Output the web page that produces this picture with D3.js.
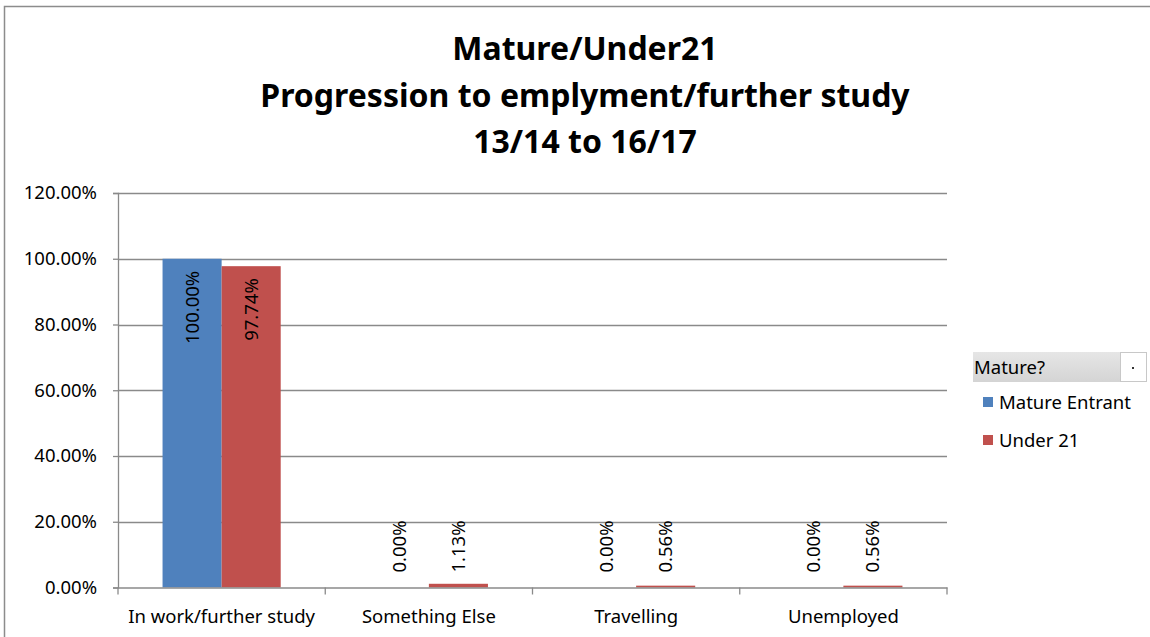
<!DOCTYPE html>
<html><head><meta charset="utf-8">
<script src="https://cdn.jsdelivr.net/npm/d3@7"></script>
<style>body{margin:0;background:#fff}svg{display:block}text{font-family:"Noto Sans",sans-serif;fill:#000}</style>
</head><body><svg id="c" width="1150" height="637"></svg>
<script>
const categories = ["In work/further study","Something Else","Travelling","Unemployed"];
const seriesNames = ["Mature Entrant","Under 21"];
const matureValues = [100.00, 0.00, 0.00, 0.00];
const under21Values = [97.74, 1.13, 0.56, 0.56];
const yTicks = [0,20,40,60,80,100,120];
const titleLines = ["Mature/Under21","Progression to emplyment/further study","13/14 to 16/17"];
const legendTitle = "Mature?";
const colors = ["#4F81BD","#C0504D"];
const FS = "18.5px";

const svg = d3.select("#c");
// outer chart border
svg.append("rect").attr("x",4.5).attr("y",6.5).attr("width",1200).attr("height",700)
  .attr("fill","none").attr("stroke","#8c8c8c").attr("stroke-width",1.5);

const L=118, R=947, T=193, B=587.5;
const x = d3.scaleBand().domain(categories).range([L,R]).paddingInner(0).paddingOuter(0);
const x1 = d3.scaleBand().domain(seriesNames).range([0,x.bandwidth()]).paddingInner(0).paddingOuter(0.754);
const y = d3.scaleLinear().domain([0,120]).range([B,T]);

// gridlines
svg.append("g").selectAll("line").data(yTicks.slice(1)).join("line")
  .attr("x1",L).attr("x2",R).attr("y1",d=>Math.round(y(d))+0.5).attr("y2",d=>Math.round(y(d))+0.5)
  .attr("stroke","#8a8a8a").attr("stroke-width",1.3);

// bars
const data = categories.map((c,i)=>({cat:c, vals:[{s:seriesNames[0],v:matureValues[i],k:0},{s:seriesNames[1],v:under21Values[i],k:1}]}));
const g = svg.append("g").selectAll("g").data(data).join("g").attr("transform",d=>`translate(${x(d.cat)},0)`);
g.selectAll("rect").data(d=>d.vals).join("rect")
  .attr("x",d=>x1(d.s)).attr("width",x1.bandwidth())
  .attr("y",d=>y(d.v)).attr("height",d=>B-y(d.v)).attr("fill",d=>colors[d.k]);

// y axis
const yAxis = d3.axisLeft(y).tickValues(yTicks).tickFormat(d=>d.toFixed(2)+"%").tickSize(5).tickPadding(16);
const ya = svg.append("g").attr("transform",`translate(${L},0)`).call(yAxis);
ya.select(".domain").attr("stroke","#8a8a8a").attr("stroke-width",1.3);
ya.selectAll(".tick line").attr("stroke","#8a8a8a").attr("stroke-width",1.3);
ya.selectAll("text").attr("font-size",FS).attr("font-family","'Noto Sans',sans-serif").attr("fill","#000");

// x axis
const xAxis = d3.axisBottom(x).tickSize(0).tickPadding(22);
const xa = svg.append("g").attr("transform",`translate(0,${B})`).call(xAxis);
xa.select(".domain").attr("stroke","#8a8a8a").attr("stroke-width",1.3);
xa.selectAll("text").attr("font-size",FS).attr("font-family","'Noto Sans',sans-serif").attr("fill","#000");
xa.append("g").selectAll("line").data(categories.map(c=>x(c)).concat([R])).join("line")
  .attr("x1",d=>d).attr("x2",d=>d).attr("y1",0).attr("y2",7).attr("stroke","#8a8a8a").attr("stroke-width",1.3);

// data labels
g.selectAll("text.lbl").data(d=>d.vals).join("text").attr("class","lbl")
  .attr("transform",d=>{
    const cx = x1(d.s)+x1.bandwidth()/2;
    const big = (B-y(d.v))>90;
    const yy = big ? y(d.v)+12 : B-15;
    return `translate(${cx},${yy}) rotate(-90)`;
  })
  .attr("text-anchor",d=>(B-y(d.v))>90?"end":"start")
  .attr("dy","0.35em").attr("font-size",FS)
  .text(d=>d.v.toFixed(2)+"%");

// title
svg.append("g").selectAll("text").data(titleLines).join("text")
  .attr("x",585).attr("y",(d,i)=>60+i*46.5).attr("text-anchor","middle")
  .attr("font-weight","bold").attr("font-size","32px").text(d=>d);

// legend
const defs = svg.append("defs");
const grad = defs.append("linearGradient").attr("id","lg").attr("x1",0).attr("y1",0).attr("x2",0).attr("y2",1);
grad.append("stop").attr("offset","0%").attr("stop-color","#e6e6e6");
grad.append("stop").attr("offset","100%").attr("stop-color","#d4d4d4");
svg.append("rect").attr("x",973).attr("y",352).attr("width",174).attr("height",30).attr("fill","url(#lg)");
svg.append("rect").attr("x",1120.5).attr("y",352.5).attr("width",26).attr("height",29).attr("fill","#fff").attr("stroke","#c8c8c8");
svg.append("rect").attr("x",1132).attr("y",367).attr("width",2).attr("height",2).attr("fill","#333");
svg.append("text").attr("x",974).attr("y",374).attr("font-size",FS).attr("fill","#222").text(legendTitle);
const li = svg.append("g").selectAll("g").data(seriesNames).join("g")
  .attr("transform",(d,i)=>`translate(983,${397+i*38})`);
li.append("rect").attr("width",10).attr("height",10).attr("fill",(d,i)=>colors[i]);
li.append("text").attr("x",16).attr("y",11.5).attr("font-size",FS).text(d=>d);
</script></body></html>
